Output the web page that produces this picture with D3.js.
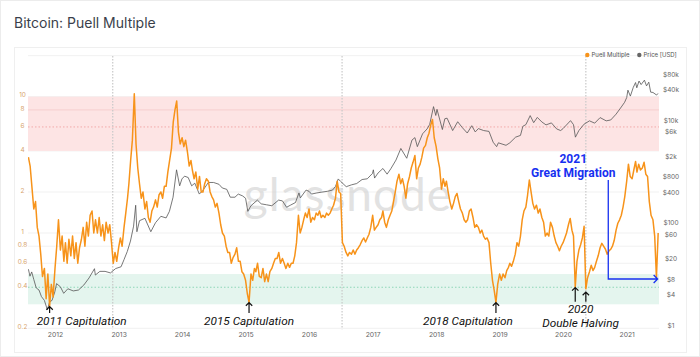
<!DOCTYPE html>
<html><head><meta charset="utf-8">
<script src="https://cdn.jsdelivr.net/npm/d3@7"></script>
<style>
html,body{margin:0;padding:0;background:#fff;}
svg{display:block;font-family:Inter,"Noto Sans",sans-serif;}
</style></head>
<body><svg id="c" width="700" height="357"></svg>
<script>
// ---------- DATA ----------
const sampleDays = [1, 11, 21];            // Puell samples per month
const puellStart = "2011-08";              // first month of Puell samples
const puell2011 = [3.6,3.1,2.2, 1.5,1.7,1.1, 0.95,0.7,0.48, 0.55,0.33,0.5, 0.29,0.42,0.34];
const puell2012 = [0.55,0.8,1.25, 0.75,0.95,0.62, 0.85,0.6,0.9, 0.68,0.95,0.65, 0.85,0.6,0.78, 0.9,1.1,0.8,
                   1.2,0.95,1.35, 1.45,1.0,1.25, 1.0,1.3,0.95, 1.15,0.88,1.2, 1.0,1.15,0.85, 0.6,0.72,0.62];
const puell2013 = [0.78,0.92,0.8, 1.1,1.4,1.8, 2.3,3.4,4.8, 10.5,4.5,3.0, 2.3,1.8,2.0, 1.5,1.7,1.3,
                   1.2,1.45,1.55, 1.75,1.55,1.9, 2.0,1.8,2.2, 2.2,2.8,3.4, 4.2,6.5,8.0, 9.3,5.5,4.5];
const puell2014 = [5.0,4.3,4.8, 3.9,3.1,3.4, 2.9,2.5,2.8, 2.1,2.6,2.0, 2.0,2.3,2.5, 2.4,2.0,1.85,
                   1.75,1.55,1.65, 1.4,1.15,1.0, 0.95,0.8,0.72, 0.72,0.6,0.66, 0.7,0.78,0.62, 0.62,0.52,0.5];
const puell2015 = [0.45,0.36,0.31, 0.5,0.45,0.55, 0.52,0.6,0.48, 0.47,0.55,0.44, 0.5,0.44,0.52, 0.55,0.6,0.65,
                   0.65,0.72,0.6, 0.65,0.6,0.55, 0.6,0.56,0.6, 0.6,0.68,0.85, 1.35,1.0,1.1, 1.25,1.4,1.3];
const puell2016 = [1.5,1.2,1.3, 1.25,1.4,1.35, 1.45,1.3,1.35, 1.3,1.4,1.35, 1.4,1.5,1.6, 1.8,2.4,2.0,
                   1.95,0.85,0.8, 0.72,0.68,0.72, 0.7,0.75,0.7, 0.75,0.78,0.82, 0.88,0.92,0.86, 0.92,0.98,1.1];
const puell2017 = [1.35,1.05,1.1, 1.15,1.25,1.3, 1.45,1.2,1.1, 1.25,1.35,1.45, 1.7,2.0,2.4, 2.7,2.3,2.5,
                   2.2,1.8,2.3, 2.6,3.0,3.3, 3.7,2.5,3.0, 3.2,3.6,4.2, 4.4,5.0,5.4, 6.2,6.8,5.0];
const puell2018 = [4.3,3.5,3.0, 2.1,2.5,2.2, 2.4,2.0,1.7, 1.5,1.65,1.85, 1.95,1.7,1.5, 1.4,1.25,1.2,
                   1.25,1.45,1.5, 1.3,1.1,1.15, 1.1,1.0,1.05, 0.95,0.9,0.92, 0.85,0.6,0.45, 0.38,0.31,0.42];
const puell2019 = [0.5,0.45,0.5, 0.47,0.53,0.56, 0.6,0.57,0.62, 0.7,0.85,0.8, 0.95,1.25,1.45, 1.55,1.9,2.45,
                   2.0,1.65,1.5, 1.6,1.4,1.5, 1.3,1.2,0.95, 1.0,0.95,1.2, 1.1,0.95,0.85, 0.8,0.74,0.8];
const puell2020 = [0.85,0.92,1.0, 1.15,1.28,1.05, 0.95,0.4,0.62, 0.75,0.82,0.92, 1.12,0.39,0.47, 0.52,0.58,0.53,
                   0.56,0.62,0.68, 0.78,0.84,0.8, 0.76,0.7,0.74, 0.76,0.8,0.88, 1.05,1.18,1.25, 1.35,1.55,1.85];
const puell2021 = [2.4,3.2,2.6, 2.5,2.9,3.35, 2.8,3.2,2.9, 3.0,3.3,2.7, 2.6,1.7,1.35, 1.25,0.95,0.47, 1.0];

const price2011 = [["2011-08-01",13.0],["2011-08-10",9.5],["2011-08-20",11.5],["2011-09-01",8.2],["2011-09-15",5.6],["2011-10-01",5.1],["2011-10-15",3.8],["2011-11-01",3.2],["2011-11-18",2.1],["2011-12-01",3.0],["2011-12-15",3.2],["2011-12-31",4.7]];
const price2012 = [["2012-01-10",6.8],["2012-02-01",5.9],["2012-02-20",4.4],["2012-03-15",5.4],["2012-04-15",4.9],["2012-05-15",5.1],["2012-06-15",6.4],["2012-07-15",8.8],["2012-08-15",13.3],["2012-08-20",10.0],["2012-09-15",11.8],["2012-10-15",11.8],["2012-11-15",11.0],["2012-12-15",13.4]];
const price2013 = [["2013-01-15",14.5],["2013-02-01",20],["2013-02-20",29],["2013-03-10",46],["2013-03-28",90],["2013-04-09",230],["2013-04-16",70],["2013-05-01",115],["2013-06-01",128],["2013-07-05",70],["2013-08-01",105],["2013-09-01",140],["2013-10-01",130],["2013-10-20",175],["2013-11-10",330],["2013-11-30",1130],["2013-12-18",550],["2013-12-31",750]];
const price2014 = [["2014-01-15",850],["2014-02-05",800],["2014-02-25",550],["2014-03-15",620],["2014-04-10",380],["2014-05-01",450],["2014-06-01",640],["2014-07-01",640],["2014-08-01",590],["2014-08-20",500],["2014-09-15",470],["2014-10-05",330],["2014-11-01",330],["2014-11-20",380],["2014-12-15",350]];
const price2015 = [["2015-01-01",315],["2015-01-14",175],["2015-02-01",225],["2015-03-10",290],["2015-04-01",245],["2015-05-01",235],["2015-06-01",225],["2015-07-10",290],["2015-08-01",280],["2015-08-25",210],["2015-09-15",230],["2015-10-15",260],["2015-11-04",400],["2015-11-12",320],["2015-12-15",455]];
const price2016 = [["2016-01-01",430],["2016-01-15",380],["2016-02-15",400],["2016-03-15",415],["2016-04-15",430],["2016-05-15",455],["2016-06-01",535],["2016-06-17",750],["2016-07-01",670],["2016-08-02",530],["2016-09-01",575],["2016-10-01",610],["2016-11-01",730],["2016-12-01",755],["2016-12-31",960]];
const price2017 = [["2017-01-05",1130],["2017-01-12",780],["2017-02-01",980],["2017-03-01",1200],["2017-03-25",930],["2017-04-15",1180],["2017-05-15",1750],["2017-06-12",2950],["2017-07-16",1900],["2017-08-15",4300],["2017-09-01",4800],["2017-09-15",3200],["2017-10-15",5700],["2017-11-10",7100],["2017-11-25",8700],["2017-12-17",19300],["2017-12-30",13000]];
const price2018 = [["2018-01-06",17100],["2018-02-06",6900],["2018-02-20",11200],["2018-03-05",11500],["2018-04-06",6600],["2018-05-05",9800],["2018-06-01",7500],["2018-06-29",5900],["2018-07-25",8200],["2018-08-14",6200],["2018-09-01",7200],["2018-10-01",6600],["2018-11-01",6350],["2018-11-25",3900],["2018-12-15",3200],["2018-12-25",3800]];
const price2019 = [["2019-01-15",3600],["2019-02-07",3400],["2019-03-01",3800],["2019-04-03",4900],["2019-05-01",5300],["2019-05-15",8000],["2019-06-01",8600],["2019-06-26",12900],["2019-07-16",9400],["2019-08-06",11900],["2019-09-01",9700],["2019-09-25",8500],["2019-10-26",9300],["2019-11-25",7100],["2019-12-18",6600]];
const price2020 = [["2020-01-01",7200],["2020-02-13",10300],["2020-03-01",8600],["2020-03-12",4900],["2020-04-01",6600],["2020-05-01",8800],["2020-06-01",10200],["2020-07-01",9200],["2020-08-01",11800],["2020-09-05",10200],["2020-10-01",10600],["2020-11-01",13800],["2020-12-01",19000],["2020-12-20",23500]];
const price2021 = [["2021-01-01",29000],["2021-01-08",40500],["2021-01-22",31000],["2021-02-08",46000],["2021-02-21",57000],["2021-02-28",45000],["2021-03-13",61000],["2021-03-25",52000],["2021-04-13",63500],["2021-04-25",49000],["2021-05-08",58000],["2021-05-19",37000],["2021-06-01",36500],["2021-06-22",32500],["2021-06-30",35000]];

const yearTicks = [2012,2013,2014,2015,2016,2017,2018,2019,2020,2021];
const puellTicks = [0.2,0.4,0.6,0.8,1,2,4,6,8,10];
const priceTicks = [1,4,8,20,60,100,400,800,2000,6000,10000,40000,80000];
const priceTickLabels = ["$1","$4","$8","$20","$60","$100","$400","$800","$2k","$6k","$10k","$40k","$80k"];
const halvings = ["2012-11-28","2016-07-09","2020-05-11"];
const redBand = [4, 10];
const greenBand = [0.3, 0.5];
const capitulations = [
  {label:"2011 Capitulation", date:"2011-12-01", value:0.29},
  {label:"2015 Capitulation", date:"2015-01-21", value:0.31},
  {label:"2018 Capitulation", date:"2018-12-11", value:0.31}
];
const doubleHalving = [{date:"2020-03-11", value:0.4},{date:"2020-05-11", value:0.37}];
const migration = {date:"2020-09-17", endDate:"2021-06-28", value:0.46};

// ---------- SETUP ----------
const parse = d3.utcParse("%Y-%m-%d");
const svg = d3.select("#c");
const L = 28, R = 659, T = 56, B = 328.3;

const x = d3.scaleUtc().domain([new Date(Date.UTC(2012,0,1)), new Date(Date.UTC(2021,0,1))]).range([55, 626.7]);
const yP = d3.scaleLog().domain([0.2, 10]).range([328.3, 96.7]);
const yUSD = d3.scaleLog().domain([1, 80000]).range([326.3, 75.0]);

// Puell series
const puellYears = [puell2011,puell2012,puell2013,puell2014,puell2015,puell2016,puell2017,puell2018,puell2019,puell2020,puell2021];
const puell = [];
let [sy, sm] = puellStart.split("-").map(Number);
puellYears.forEach((arr, yi) => {
  const year = sy + yi;
  const m0 = yi === 0 ? sm - 1 : 0;
  arr.forEach((v, i) => {
    const m = m0 + Math.floor(i / 3);
    const day = sampleDays[i % 3];
    puell.push({date: new Date(Date.UTC(year, m, day)), value: v});
  });
});
const price = [].concat(price2011,price2012,price2013,price2014,price2015,price2016,price2017,price2018,price2019,price2020,price2021)
  .map(d => ({date: parse(d[0]), value: d[1]}));

// ---------- FRAME ----------
svg.append("rect").attr("x",0.5).attr("y",0.5).attr("width",699).attr("height",356).attr("fill","#fff").attr("stroke","#ececec");
svg.append("text").attr("x",14).attr("y",28.3).text("Bitcoin: Puell Multiple")
  .attr("font-size",14).attr("fill","#3a3f4b");
svg.append("rect").attr("x",14.5).attr("y",47.5).attr("width",672).attr("height",305).attr("fill","#fff").attr("stroke","#efefef");

svg.append("defs").append("clipPath").attr("id","clip").append("rect")
  .attr("x",L).attr("y",T).attr("width",R-L).attr("height",B-T);

// gridlines
const grid = svg.append("g");
grid.selectAll("line").data(puellTicks.concat([20])).join("line")
  .attr("x1",L).attr("x2",R).attr("y1",d=>yP(d)).attr("y2",d=>yP(d))
  .attr("stroke","#f1f1f1").attr("stroke-width",1);

// bands
svg.append("rect").attr("x",L).attr("width",R-L)
  .attr("y",yP(redBand[1])).attr("height",yP(redBand[0])-yP(redBand[1]))
  .attr("fill","#fde4e4");
svg.append("rect").attr("x",L).attr("width",R-L)
  .attr("y",yP(greenBand[1])).attr("height",yP(greenBand[0])-yP(greenBand[1]))
  .attr("fill","#e4f5ee");
svg.append("line").attr("x1",L).attr("x2",R).attr("y1",yP(8)).attr("y2",yP(8)).attr("stroke","#f6cfcf");
svg.append("line").attr("x1",L).attr("x2",R).attr("y1",yP(6)).attr("y2",yP(6)).attr("stroke","#f2a9a9").attr("stroke-dasharray","1.5,2");
svg.append("line").attr("x1",L).attr("x2",R).attr("y1",yP(0.4)).attr("y2",yP(0.4)).attr("stroke","#8fd6b8").attr("stroke-dasharray","1.5,2");

// watermark
svg.append("text").attr("x",348).attr("y",211).attr("text-anchor","middle")
  .attr("font-size",46).attr("font-family","Lato, 'Open Sans', sans-serif").attr("font-weight",400)
  .attr("fill","#cfcfcf").attr("opacity",0.6).attr("letter-spacing",1).text("glassnode");

// halving lines
svg.append("g").selectAll("line").data(halvings).join("line")
  .attr("x1",d=>x(parse(d))).attr("x2",d=>x(parse(d))).attr("y1",T).attr("y2",B+1)
  .attr("stroke","#c9c9c9").attr("stroke-width",1.2).attr("stroke-dasharray","1.5,1.5");

// lines
const plot = svg.append("g").attr("clip-path","url(#clip)");
plot.append("path").datum(price)
  .attr("d", d3.line().x(d=>x(d.date)).y(d=>yUSD(d.value)))
  .attr("fill","none").attr("stroke","#555").attr("stroke-width",0.8);
plot.append("path").datum(puell)
  .attr("d", d3.line().x(d=>x(d.date)).y(d=>yP(d.value)))
  .attr("fill","none").attr("stroke","#f7931a").attr("stroke-width",1.5).attr("stroke-linejoin","round");

// axes
const axL = svg.append("g").attr("transform","translate(22.5,-2)")
  .call(d3.axisLeft(yP).tickValues(puellTicks).tickSize(0).tickFormat(d=>String(d)));
axL.select(".domain").remove();
axL.selectAll("text").attr("x",0).attr("text-anchor","middle").attr("font-size",6.5)
  .attr("fill","#d7a56e").attr("font-family","Inter, 'Noto Sans', sans-serif");

const axR = svg.append("g").attr("transform","translate(671,-1)")
  .call(d3.axisRight(yUSD).tickValues(priceTicks).tickSize(0).tickFormat((d,i)=>priceTickLabels[i]));
axR.select(".domain").remove();
axR.selectAll("text").attr("x",0).attr("text-anchor","middle").attr("font-size",6.5)
  .attr("fill","#666").attr("font-family","Inter, 'Noto Sans', sans-serif");

const axB = svg.append("g").attr("transform","translate(0,"+(B-1)+")")
  .call(d3.axisBottom(x).tickValues(yearTicks.map(yy=>new Date(Date.UTC(yy,0,1)))).tickSize(0).tickFormat(d3.utcFormat("%Y")));
axB.select(".domain").remove();
axB.selectAll("text").attr("font-size",6.8).attr("fill","#666").attr("font-family","Inter, 'Noto Sans', sans-serif").attr("dy","0.71em").attr("y",5);

// legend
const lg = svg.append("g").attr("font-size",6).attr("fill","#555");
lg.append("circle").attr("cx",587.3).attr("cy",55).attr("r",2.2).attr("fill","#f7931a");
lg.append("text").attr("x",591.5).attr("y",57.1).text("Puell Multiple");
lg.append("circle").attr("cx",639.3).attr("cy",55).attr("r",2.2).attr("fill","#666");
lg.append("text").attr("x",643.5).attr("y",57.1).text("Price [USD]");

// annotations
function upArrow(g, cx, tipY, baseY, color){
  g.append("path").attr("d",`M${cx},${baseY}L${cx},${tipY+0.5}M${cx-3.2},${tipY+3.4}L${cx},${tipY+0.3}L${cx+3.2},${tipY+3.4}`)
   .attr("fill","none").attr("stroke",color).attr("stroke-width",1.2);
}
const ann = svg.append("g").attr("font-family","Roboto, 'Liberation Sans', sans-serif").attr("font-style","italic").attr("font-size",11.8).attr("fill","#111");
const capOffsets = [32, 0, -28];
capitulations.forEach((c,i) => {
  const cx = x(parse(c.date)), ty = yP(c.value);
  upArrow(ann, cx, ty, 313, "#111");
  ann.append("text").attr("x",cx+capOffsets[i]).attr("y",325.3).attr("text-anchor","middle").text(c.label);
});
doubleHalving.forEach(d => upArrow(ann, x(parse(d.date)), yP(d.value), 301.7, "#111"));
const dhx = (x(parse(doubleHalving[0].date)) + x(parse(doubleHalving[1].date))) / 2;
ann.append("text").attr("x",dhx).attr("y",312.6).attr("text-anchor","middle").text("2020");
ann.append("text").attr("x",dhx).attr("y",327.4).attr("text-anchor","middle").text("Double Halving");

// migration annotation
const blue = "#1730f0";
const mx = x(parse(migration.date)), my = yP(migration.value), mex = x(parse(migration.endDate));
const mg = svg.append("g");
mg.append("path").attr("d",`M${mx},180L${mx},${my}L${mex},${my}M${mex-4},${my-4}L${mex},${my}L${mex-4},${my+4}`)
  .attr("fill","none").attr("stroke",blue).attr("stroke-width",1.3);
const mt = mg.append("g").attr("font-family","Roboto, 'Liberation Sans', sans-serif").attr("font-weight",700)
  .attr("font-size",12).attr("fill",blue).attr("text-anchor","middle");
mt.append("text").attr("x",mx-35).attr("y",163.3).text("2021");
mt.append("text").attr("x",mx-35).attr("y",176.5).text("Great Migration");
</script></body></html>
